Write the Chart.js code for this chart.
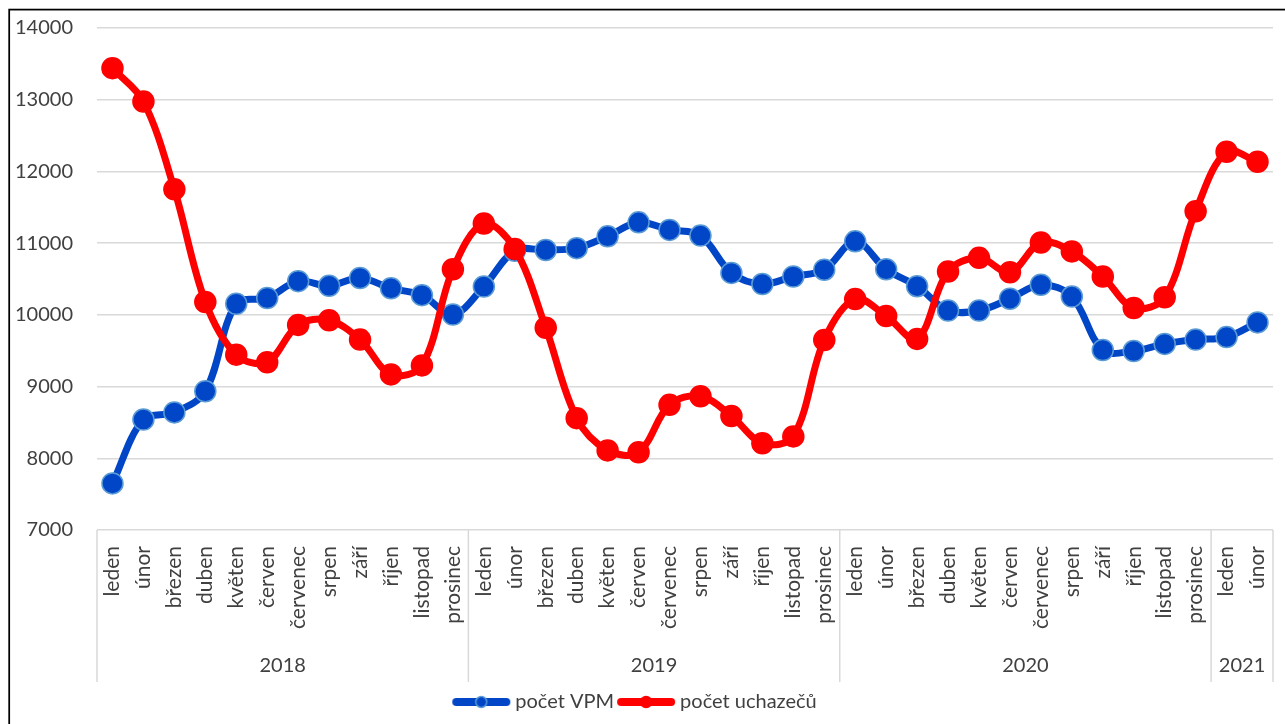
<!DOCTYPE html>
<html><head><meta charset="utf-8">
<script src="https://cdn.jsdelivr.net/npm/chart.js@4.4.1/dist/chart.umd.min.js"></script>
<style>html,body{margin:0;padding:0;background:#fff}canvas{display:block}</style>
</head><body>
<canvas id="c" width="1285" height="724"></canvas>
<script>
// ---- data ----
const monthLabels = [
  'leden','únor','březen','duben','květen','červen','červenec','srpen','září','říjen','listopad','prosinec',
  'leden','únor','březen','duben','květen','červen','červenec','srpen','září','říjen','listopad','prosinec',
  'leden','únor','březen','duben','květen','červen','červenec','srpen','září','říjen','listopad','prosinec',
  'leden','únor'
];
const yearLabels = ['2018','2019','2020','2021'];
const yearMonthCounts = [12, 12, 12, 2];
const pocetVPM = [
  7650, 8540, 8640, 8935, 10155, 10235, 10470, 10405, 10515, 10370, 10275, 10005,
  10395, 10895, 10905, 10930, 11095, 11290, 11185, 11105, 10585, 10430, 10535, 10630,
  11025, 10635, 10400, 10060, 10060, 10225, 10420, 10255, 9510, 9495, 9595, 9655,
  9690, 9895
];
const pocetUchazecu = [
  13440, 12975, 11750, 10180, 9445, 9340, 9860, 9925, 9655, 9170, 9295, 10635,
  11275, 10920, 9820, 8560, 8110, 8085, 8745, 8865, 8590, 8210, 8305, 9650,
  10220, 9985, 9665, 10605, 10795, 10595, 11010, 10885, 10535, 10095, 10245, 11445,
  12275, 12135
];
const yTickValues = [7000, 8000, 9000, 10000, 11000, 12000, 13000, 14000];
const seriesNames = ['počet VPM', 'počet uchazečů'];

// ---- styles ----
const BLUE = '#0046C6';
const BLUE_EDGE = '#5B9BD5';
const RED = '#FF0000';
const TEXT = '#404040';
const GRID = '#D9D9D9';
const FONT = 'Lato';

function legendIcon(color, edge) {
  const c = document.createElement('canvas');
  c.width = 60; c.height = 16;
  const g = c.getContext('2d');
  g.strokeStyle = color; g.lineWidth = 8; g.lineCap = 'round';
  g.beginPath(); g.moveTo(5, 8); g.lineTo(55, 8); g.stroke();
  g.fillStyle = color; g.strokeStyle = edge; g.lineWidth = 1.5;
  g.beginPath(); g.arc(30, 8, 5.5, 0, Math.PI * 2); g.fill(); g.stroke();
  return c;
}
const icons = [legendIcon(BLUE, BLUE_EDGE), legendIcon(RED, RED)];

const framePlugin = {
  id: 'frame',
  afterDraw(chart) {
    const ctx = chart.ctx;
    ctx.save();
    ctx.strokeStyle = '#000'; ctx.lineWidth = 1.75;
    ctx.strokeRect(9.2, 9.6, 3000, 3000);
    ctx.restore();
  }
};

const yearAxisPlugin = {
  id: 'yearAxis',
  afterDraw(chart) {
    const xs = chart.scales.x;
    const ctx = chart.ctx;
    const top = chart.chartArea.bottom;
    const bottom = top + 152;
    const bounds = [chart.chartArea.left];
    let idx = 0;
    yearMonthCounts.forEach((n, k) => {
      idx += n;
      if (k < yearMonthCounts.length - 1) {
        bounds.push((xs.getPixelForValue(idx - 1) + xs.getPixelForValue(idx)) / 2);
      }
    });
    bounds.push(chart.chartArea.right);
    ctx.save();
    ctx.strokeStyle = GRID; ctx.lineWidth = 1.5;
    bounds.forEach(b => { ctx.beginPath(); ctx.moveTo(b, top); ctx.lineTo(b, bottom); ctx.stroke(); });
    ctx.fillStyle = TEXT;
    ctx.font = '20px ' + FONT;
    ctx.textAlign = 'center'; ctx.textBaseline = 'middle';
    yearLabels.forEach((y, k) => {
      ctx.fillText(y, (bounds[k] + bounds[k + 1]) / 2, top + 136);
    });
    ctx.restore();
  }
};

new Chart(document.getElementById('c'), {
  type: 'line',
  data: {
    labels: monthLabels,
    datasets: [
      {
        label: seriesNames[0], data: pocetVPM, order: 2,
        borderColor: BLUE, backgroundColor: BLUE, borderWidth: 7, tension: 0.35,
        pointRadius: 10.5, pointBackgroundColor: BLUE, pointBorderColor: BLUE_EDGE, pointBorderWidth: 1.5
      },
      {
        label: seriesNames[1], data: pocetUchazecu, order: 1,
        borderColor: RED, backgroundColor: RED, borderWidth: 7, tension: 0.35,
        pointRadius: 10.5, pointBackgroundColor: RED, pointBorderColor: RED, pointBorderWidth: 1.5
      }
    ]
  },
  options: {
    responsive: false, animation: false, devicePixelRatio: 1,
    layout: { padding: { top: 28, right: 11, bottom: 2, left: 0 } },
    plugins: {
      tooltip: { enabled: false },
      legend: {
        position: 'bottom',
        labels: {
          usePointStyle: true, pointStyleWidth: 48, padding: 8,
          color: TEXT, font: { family: FONT, size: 20 },
          generateLabels(chart) {
            const items = Chart.defaults.plugins.legend.labels.generateLabels(chart);
            items.forEach(it => { it.pointStyle = icons[it.datasetIndex]; });
            return items.sort((a, b) => a.datasetIndex - b.datasetIndex);
          }
        }
      }
    },
    scales: {
      x: {
        type: 'category', offset: true,
        grid: { display: false, drawTicks: false }, border: { display: false },
        ticks: { autoSkip: false, minRotation: 90, maxRotation: 90, padding: 16, color: TEXT, font: { family: FONT, size: 21 } },
        afterFit(s) { s.height = 154; s.paddingLeft = 0; s.paddingRight = 0; s.paddingTop = 0; s.paddingBottom = 0; }
      },
      y: {
        min: yTickValues[0], max: yTickValues[yTickValues.length - 1],
        afterBuildTicks(s) { s.ticks = yTickValues.map(v => ({ value: v })); },
        grid: { color: GRID, lineWidth: 1.5, drawTicks: false }, border: { display: false },
        ticks: { padding: 24, color: TEXT, font: { family: FONT, size: 20 }, callback: v => String(v) },
        afterFit(s) { s.width = 97; s.paddingLeft = 0; s.paddingRight = 0; s.paddingTop = 0; s.paddingBottom = 0; }
      }
    }
  },
  plugins: [framePlugin, yearAxisPlugin]
});
</script>
</body></html>
